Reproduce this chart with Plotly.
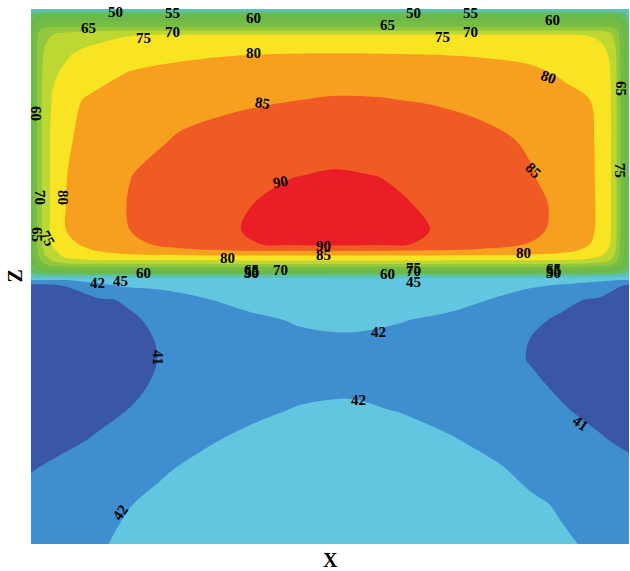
import numpy as np
import plotly.graph_objects as go

# ---- Upper (heated) region: grid positions in mm from the lower-left corner ----
x_hot = [0, 3, 7, 13, 21, 35, 59, 99, 149, 204, 259, 304, 349, 399, 449, 499,
         534, 559, 571, 579, 585, 590, 594, 598]
# rows listed from the top wall downwards
z_hot = [535, 532, 529, 523, 517, 513, 509, 500, 489, 469, 444, 404, 369, 339,
         314, 300, 293, 288, 284, 280, 276, 272, 268, 264]
t_hot = [
    [45.5, 46.5, 47.0, 47.0, 47.0, 47.0, 47.0, 47.0, 47.0, 47.0, 47.0, 47.0, 47.0, 47.0, 47.0, 47.0, 47.0, 47.0, 47.0, 47.0, 47.0, 46.5, 46.0, 45.0],
    [48.0, 49.5, 50.0, 50.2, 50.3, 50.3, 50.3, 50.3, 50.3, 50.3, 50.3, 50.3, 50.3, 50.3, 50.3, 50.3, 50.3, 50.3, 50.3, 50.3, 50.0, 49.5, 48.5, 46.0],
    [50.5, 53.5, 55.0, 55.2, 55.3, 55.3, 55.3, 55.3, 55.3, 55.3, 55.3, 55.3, 55.3, 55.3, 55.3, 55.3, 55.3, 55.3, 55.3, 55.3, 55.0, 53.5, 51.5, 47.5],
    [53.5, 57.5, 59.5, 60.0, 60.2, 60.3, 60.3, 60.3, 60.3, 60.3, 60.3, 60.3, 60.3, 60.3, 60.3, 60.3, 60.3, 60.3, 60.3, 60.2, 59.8, 58.0, 54.5, 49.0],
    [55.0, 59.5, 63.0, 64.5, 65.0, 65.2, 65.3, 65.3, 65.3, 65.3, 65.3, 65.3, 65.3, 65.3, 65.3, 65.3, 65.3, 65.3, 65.2, 65.0, 64.0, 60.5, 56.3, 50.5],
    [56.0, 60.3, 64.5, 66.5, 68.0, 69.0, 69.8, 70.2, 70.3, 70.3, 70.3, 70.3, 70.3, 70.3, 70.3, 70.3, 70.3, 70.3, 70.0, 69.0, 66.5, 62.0, 57.2, 51.5],
    [56.5, 60.7, 65.5, 68.0, 70.0, 71.5, 73.0, 74.8, 75.2, 75.2, 75.2, 75.2, 75.2, 75.2, 75.2, 75.2, 75.2, 74.8, 73.5, 71.5, 68.0, 62.8, 57.7, 52.3],
    [57.0, 61.0, 66.0, 69.5, 71.5, 73.0, 74.7, 76.6, 77.3, 77.6, 77.7, 77.7, 77.7, 77.6, 77.4, 77.0, 76.5, 76.0, 75.2, 73.0, 69.3, 63.3, 58.2, 53.3],
    [57.0, 61.0, 66.3, 70.5, 73.0, 74.6, 76.5, 78.0, 79.2, 79.9, 80.3, 80.4, 80.3, 80.1, 79.7, 79.2, 78.3, 77.3, 76.5, 74.5, 70.3, 63.7, 58.4, 53.8],
    [57.0, 61.0, 66.5, 71.5, 74.5, 75.8, 78.0, 80.5, 81.6, 82.6, 83.3, 83.5, 83.4, 83.0, 82.0, 80.9, 79.6, 78.6, 77.5, 75.3, 70.8, 64.0, 58.5, 54.0],
    [57.0, 61.0, 66.5, 72.0, 75.2, 78.8, 80.6, 82.0, 83.2, 84.2, 84.9, 85.3, 85.2, 84.7, 83.8, 82.4, 81.0, 80.0, 78.3, 75.6, 71.0, 64.0, 58.5, 54.0],
    [57.0, 61.0, 66.5, 72.0, 76.0, 79.6, 81.0, 83.1, 85.5, 86.8, 87.6, 88.0, 87.9, 87.3, 86.2, 84.5, 82.5, 80.8, 78.5, 75.8, 71.0, 64.0, 58.5, 54.0],
    [57.0, 61.0, 66.5, 72.0, 76.0, 79.9, 81.9, 84.9, 86.8, 88.2, 89.8, 90.4, 89.9, 88.8, 87.5, 85.3, 83.0, 81.0, 78.5, 75.8, 71.0, 64.0, 58.5, 54.0],
    [57.0, 61.0, 66.5, 72.0, 76.0, 80.0, 82.0, 85.3, 87.5, 89.4, 91.3, 91.9, 91.2, 89.4, 88.0, 86.3, 83.8, 81.2, 78.5, 75.8, 71.0, 64.0, 58.5, 54.0],
    [57.0, 61.0, 66.5, 72.0, 76.0, 80.0, 82.0, 85.0, 87.5, 89.8, 91.6, 92.0, 91.5, 90.0, 88.3, 86.2, 83.5, 81.0, 78.5, 75.8, 71.0, 64.0, 58.5, 54.0],
    [57.0, 61.0, 66.3, 71.5, 75.3, 78.8, 81.2, 84.0, 86.5, 89.3, 90.8, 91.0, 90.8, 89.5, 87.3, 84.8, 82.5, 80.0, 77.8, 75.2, 70.5, 63.8, 58.4, 54.0],
    [56.5, 60.5, 65.5, 70.5, 74.0, 77.0, 79.5, 82.3, 84.0, 84.6, 84.8, 84.9, 84.8, 84.5, 84.0, 82.6, 81.0, 78.5, 76.5, 74.0, 69.5, 63.3, 58.2, 53.8],
    [56.0, 60.0, 64.5, 69.0, 72.5, 76.0, 78.3, 78.8, 79.2, 79.4, 79.5, 79.5, 79.5, 79.4, 79.3, 79.0, 77.8, 76.5, 74.8, 72.5, 68.5, 62.8, 58.0, 53.6],
    [55.0, 59.0, 63.0, 67.0, 70.5, 73.8, 75.0, 75.3, 75.4, 75.5, 75.5, 75.5, 75.5, 75.5, 75.4, 75.3, 75.0, 74.0, 72.5, 70.5, 67.0, 62.0, 57.5, 53.2],
    [53.5, 57.5, 61.0, 64.5, 67.5, 69.0, 69.8, 70.0, 70.2, 70.3, 70.3, 70.3, 70.3, 70.3, 70.2, 70.0, 69.7, 69.0, 68.0, 66.5, 64.0, 60.5, 56.5, 52.5],
    [51.5, 55.0, 58.0, 60.5, 62.0, 62.5, 63.0, 63.2, 63.4, 63.5, 63.5, 63.5, 63.5, 63.5, 63.5, 63.3, 63.0, 62.5, 62.0, 61.0, 59.5, 57.5, 54.5, 51.0],
    [49.0, 51.5, 53.5, 55.0, 56.0, 56.3, 56.5, 56.6, 56.7, 56.7, 56.7, 56.7, 56.7, 56.7, 56.7, 56.7, 56.4, 56.0, 55.5, 54.8, 54.0, 52.5, 51.0, 48.5],
    [45.5, 46.5, 47.0, 47.2, 47.3, 47.4, 47.5, 47.5, 47.5, 47.5, 47.5, 47.5, 47.5, 47.5, 47.5, 47.5, 47.3, 47.0, 46.8, 46.5, 46.3, 46.0, 45.5, 45.0],
    [42.2, 42.2, 42.2, 42.25, 42.3, 42.3, 42.35, 42.5, 42.55, 42.65, 42.75, 42.8, 42.8, 42.7, 42.6, 42.5, 42.45, 42.35, 42.3, 42.3, 42.25, 42.25, 42.2, 42.2],
]

# ---- Lower (cool) region ----
x_cold = [0, 29, 69, 99, 129, 169, 219, 269, 319, 369, 419, 469, 499, 529, 569, 598]
# rows listed from the interface downwards
z_cold = [266, 258, 244, 224, 204, 184, 159, 134, 104, 74, 39, 0]
t_cold = [
    [42.2, 42.25, 42.35, 42.5, 42.55, 42.6, 42.7, 42.75, 42.8, 42.78, 42.7, 42.55, 42.5, 42.45, 42.3, 42.2],
    [40.7, 40.9, 41.85, 42.1, 42.2, 42.35, 42.5, 42.6, 42.65, 42.6, 42.5, 42.25, 42.1, 41.9, 41.6, 40.8],
    [40.55, 40.65, 40.9, 41.1, 41.4, 41.9, 42.3, 42.5, 42.55, 42.5, 42.3, 41.9, 41.5, 41.2, 40.85, 40.6],
    [40.45, 40.5, 40.7, 40.9, 41.15, 41.45, 41.8, 42.1, 42.2, 42.05, 41.8, 41.4, 41.15, 40.9, 40.65, 40.5],
    [40.4, 40.45, 40.6, 40.8, 41.05, 41.35, 41.6, 41.8, 41.88, 41.75, 41.55, 41.25, 40.99, 40.8, 40.6, 40.5],
    [40.4, 40.45, 40.6, 40.8, 41.02, 41.3, 41.5, 41.65, 41.7, 41.62, 41.45, 41.2, 40.97, 40.8, 40.6, 40.5],
    [40.4, 40.5, 40.65, 40.85, 41.1, 41.35, 41.6, 41.8, 41.85, 41.78, 41.6, 41.35, 41.12, 40.9, 40.65, 40.5],
    [40.5, 40.6, 40.8, 41.02, 41.3, 41.6, 41.85, 42.05, 42.12, 41.97, 41.78, 41.5, 41.3, 41.07, 40.8, 40.6],
    [40.6, 40.8, 41.1, 41.35, 41.65, 41.9, 42.15, 42.35, 42.4, 42.3, 42.05, 41.8, 41.6, 41.4, 41.06, 40.85],
    [40.97, 41.2, 41.5, 41.75, 41.93, 42.15, 42.35, 42.5, 42.55, 42.45, 42.3, 42.05, 41.85, 41.65, 41.4, 41.2],
    [41.3, 41.5, 41.8, 41.99, 42.15, 42.35, 42.5, 42.6, 42.65, 42.55, 42.45, 42.25, 42.1, 41.95, 41.7, 41.5],
    [41.5, 41.7, 41.96, 42.1, 42.25, 42.4, 42.55, 42.65, 42.7, 42.6, 42.5, 42.35, 42.2, 42.08, 41.9, 41.75],
]

# ---- Isotherm levels and the fill colour of each band ----
levels = [41, 42, 45, 50, 55, 60, 65, 70, 75, 80, 85, 90]
band_colors = [
    "#3a56a6",  # below 41
    "#3f8ed0",  # 41-42
    "#62c6e1",  # 42-45
    "#5cc2b5",  # 45-50
    "#66bd63",  # 50-55
    "#6cb94a",  # 55-60
    "#76bd45",  # 60-65
    "#93c83f",  # 65-70
    "#bdd733",  # 70-75
    "#f9e423",  # 75-80
    "#f7a01f",  # 80-85
    "#f05a25",  # 85-90
    "#ea1f26",  # above 90
]

# ---- Contour labels: (level, x, z, rotation in degrees) ----
labels = [
    (50, 84, 532, 0), (65, 57, 516, 0), (75, 112, 506, 0), (55, 141, 531, 0),
    (70, 141, 512, 0), (60, 222, 526, 0), (80, 222, 491, 0), (85, 231, 441, 10),
    (90, 249, 362, -10), (65, 356, 519, 0), (50, 382, 531, 0), (75, 411, 507, 0),
    (55, 439, 531, 0), (70, 439, 512, 0), (60, 521, 524, 0), (80, 517, 467, 20),
    (85, 502, 374, 45), (75, 589, 374, 90), (65, 590, 456, 90),
    (60, 5, 431, 90), (70, 9, 347, 90), (80, 32, 347, 90), (65, 6, 310, 90),
    (75, 16, 306, 60),
    (80, 196, 286, 0), (65, 220, 274, 0), (55, 220, 272, 0), (50, 220, 271, 0),
    (70, 249, 274, 0), (90, 292, 298, 0), (85, 292, 289, 0), (60, 356, 270, 0),
    (75, 382, 276, 0), (70, 382, 273, 0), (45, 382, 262, 0), (80, 492, 291, 0),
    (65, 522, 275, 0), (55, 522, 273, 0), (50, 522, 271, 0),
    (42, 66, 261, 0), (45, 89, 263, 0), (60, 112, 271, 0),
    (41, 127, 187, 90), (42, 347, 212, 0), (42, 327, 144, 0), (41, 549, 121, 35),
    (42, 89, 31, -55),
]

# Uniform 1-degree contour steps; the stepped colour scale groups them into
# the isotherm bands above.
c_start, c_end, c_size = 41, 90, 1
n_levels = int((c_end - c_start) / c_size) + 1


def scale_pos(v):
    return (v - (c_start - c_size / 2)) / (n_levels * c_size)


colorscale = [[0.0, band_colors[0]]]
for i, lv in enumerate(levels):
    p = scale_pos(lv)
    colorscale.append([p, band_colors[i]])
    colorscale.append([p, band_colors[i + 1]])
colorscale.append([1.0, band_colors[-1]])

contour_style = dict(
    colorscale=colorscale,
    autocontour=False,
    contours=dict(start=c_start, end=c_end, size=c_size, coloring="fill",
                  showlines=False),
    line=dict(width=0),
    showscale=False,
    hoverinfo="skip",
)

fig = go.Figure()
fig.add_trace(go.Contour(x=x_cold, y=z_cold[::-1],
                         z=np.array(t_cold)[::-1], **contour_style))
fig.add_trace(go.Contour(x=x_hot, y=z_hot[::-1],
                         z=np.array(t_hot)[::-1], **contour_style))

label_font = dict(family="Liberation Serif", size=15, color="black", weight="bold")
for lv, lx, lz, ang in labels:
    fig.add_annotation(x=lx, y=lz, text=str(lv), showarrow=False,
                       textangle=ang, font=label_font,
                       xanchor="center", yanchor="middle")

title_font = dict(family="Liberation Serif", size=20, color="black", weight="bold")
fig.add_annotation(xref="paper", yref="paper", x=0.5, y=0, yshift=-3,
                   xanchor="center", yanchor="top", text="X",
                   showarrow=False, font=title_font)
fig.add_annotation(xref="paper", yref="paper", x=0, y=0.5, xshift=-4,
                   xanchor="right", yanchor="middle", text="Z", textangle=-90,
                   showarrow=False, font=title_font)

axis_common = dict(showticklabels=False, ticks="", showgrid=False,
                   zeroline=False, showline=False)
fig.update_layout(
    width=630, height=571,
    margin=dict(l=31, r=1, t=9, b=27),
    paper_bgcolor="white", plot_bgcolor="white",
    xaxis=dict(range=[0, 598], **axis_common),
    yaxis=dict(range=[0, 535], **axis_common),
    showlegend=False,
)

fig.write_html("out.html")
